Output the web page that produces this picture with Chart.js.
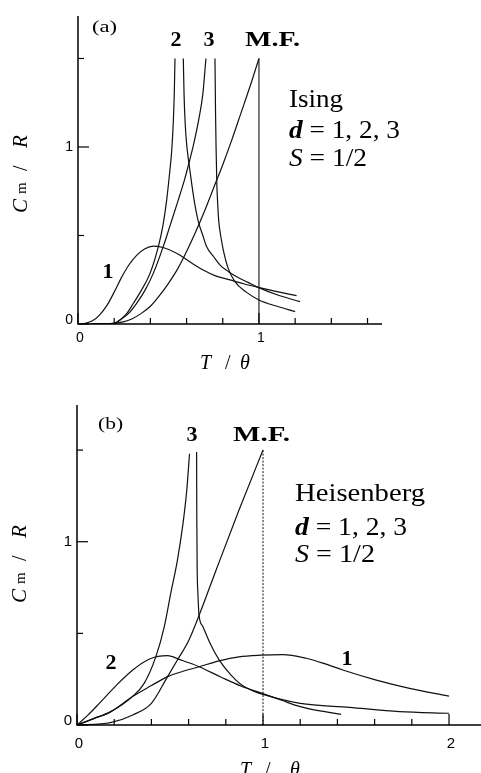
<!DOCTYPE html>
<html>
<head>
<meta charset="utf-8">
<script src="https://cdn.jsdelivr.net/npm/chart.js@4.4.1/dist/chart.umd.min.js"></script>
<style>
  html, body { margin: 0; padding: 0; background: #fff; }
  #wrap { position: relative; width: 481px; height: 773px; overflow: hidden; }
  canvas { position: absolute; left: 0; }
  #ising { top: 0; }
  #heis { top: 390px; }
</style>
</head>
<body>
<div id="wrap">
  <canvas id="ising" width="481" height="390"></canvas>
  <canvas id="heis" width="481" height="383"></canvas>
</div>
<script>
// ---- (a) Ising: T/theta and Cm/R ----
const ising1T = [0, 0.04, 0.08, 0.12, 0.16, 0.2, 0.24, 0.28, 0.324, 0.37, 0.416, 0.47, 0.545, 0.62, 0.692, 0.76, 0.84, 0.92, 0.996, 1.1, 1.208];
const ising1C = [0, 0.004, 0.018, 0.052, 0.105, 0.18, 0.262, 0.332, 0.388, 0.425, 0.44, 0.432, 0.40, 0.35, 0.305, 0.272, 0.249, 0.226, 0.207, 0.183, 0.16];

const ising2LowT = [0.07, 0.2, 0.232, 0.27, 0.306, 0.35, 0.398, 0.444, 0.47, 0.49, 0.505, 0.518, 0.527, 0.532, 0.536];
const ising2LowC = [0, 0.004, 0.023, 0.06, 0.117, 0.19, 0.286, 0.437, 0.56, 0.70, 0.84, 0.98, 1.15, 1.3, 1.5];
const ising2HighT = [0.582, 0.586, 0.593, 0.602, 0.613, 0.63, 0.645, 0.665, 0.69, 0.711, 0.75, 0.785, 0.83, 0.877, 0.94, 0.996, 1.1, 1.227];
const ising2HighC = [1.5, 1.3, 1.12, 1.0, 0.908, 0.78, 0.68, 0.578, 0.5, 0.437, 0.38, 0.333, 0.297, 0.267, 0.235, 0.207, 0.165, 0.126];

const ising3LowT = [0.07, 0.2, 0.232, 0.28, 0.324, 0.37, 0.416, 0.471, 0.51, 0.554, 0.59, 0.613, 0.64, 0.67, 0.69, 0.707];
const ising3LowC = [0, 0.004, 0.023, 0.06, 0.117, 0.19, 0.286, 0.437, 0.56, 0.70, 0.82, 0.908, 1.02, 1.17, 1.3, 1.5];
const ising3HighT = [0.757, 0.76, 0.763, 0.767, 0.772, 0.778, 0.79, 0.803, 0.83, 0.867, 0.93, 1.0, 1.1, 1.2];
const ising3HighC = [1.5, 1.2, 1.0, 0.8, 0.68, 0.58, 0.49, 0.418, 0.314, 0.239, 0.18, 0.136, 0.1, 0.07];

const isingMfT = [0.07, 0.2, 0.25, 0.3, 0.35, 0.4, 0.45, 0.5, 0.55, 0.6, 0.65, 0.7, 0.75, 0.8, 0.85, 0.9, 0.95, 1.0];
const isingMfC = [0, 0.004, 0.012, 0.03, 0.06, 0.1, 0.16, 0.23, 0.31, 0.41, 0.52, 0.64, 0.77, 0.9, 1.04, 1.19, 1.34, 1.5];
const isingMfDropT = [1.0, 1.0];
const isingMfDropC = [1.5, 0];

// ---- (b) Heisenberg ----
const heis1T = [0, 0.09, 0.182, 0.298, 0.4, 0.487, 0.57, 0.657, 0.764, 0.87, 0.988, 1.106, 1.232, 1.33, 1.429, 1.609, 1.788, 2.0];
const heis1C = [0, 0.035, 0.073, 0.155, 0.215, 0.264, 0.293, 0.318, 0.35, 0.372, 0.381, 0.384, 0.364, 0.335, 0.30, 0.245, 0.2, 0.158];

const heis2T = [0, 0.06, 0.12, 0.21, 0.3, 0.39, 0.487, 0.558, 0.657, 0.773, 0.88, 0.988, 1.1, 1.2, 1.3, 1.42];
const heis2C = [0, 0.055, 0.118, 0.215, 0.30, 0.36, 0.378, 0.355, 0.318, 0.262, 0.213, 0.175, 0.135, 0.10, 0.078, 0.058];

const heis3LowT = [0, 0.09, 0.182, 0.298, 0.361, 0.424, 0.469, 0.504, 0.54, 0.57, 0.59, 0.605];
const heis3LowC = [0, 0.035, 0.073, 0.155, 0.227, 0.373, 0.536, 0.718, 0.9, 1.1, 1.28, 1.48];
const heis3HighT = [0.643, 0.644, 0.646, 0.65, 0.656, 0.675, 0.72, 0.764, 0.827, 0.88, 0.95, 1.0, 1.2, 1.465, 1.734, 2.0];
const heis3HighC = [1.49, 1.15, 0.86, 0.72, 0.60, 0.54, 0.436, 0.355, 0.273, 0.222, 0.185, 0.167, 0.118, 0.096, 0.073, 0.064];

const heisMfT = [0, 0.18, 0.3, 0.4, 0.487, 0.54, 0.6, 0.657, 0.748, 0.87, 1.0];
const heisMfC = [0, 0.013, 0.055, 0.118, 0.264, 0.355, 0.46, 0.60, 0.846, 1.17, 1.5];
const heisMfDropT = [1.0, 1.0];
const heisMfDropC = [1.5, 0];

// ---- ticks ----
const xTicksA = [0, 0.2, 0.4, 0.6, 0.8, 1.0, 1.2, 1.4, 1.6];
const xTicksB = [0, 0.2, 0.4, 0.6, 0.8, 1.0, 1.2, 1.4, 1.6, 1.8, 2.0];
const yTicks = [0, 0.5, 1.0, 1.5];
const xLabelsA = [0, 1];
const xLabelsB = [0, 1, 2];
const yLabels = [0, 1];

const SERIF = '"Liberation Serif", "Times New Roman", serif';
const SANS = '"Liberation Sans", Arial, sans-serif';

function pts(xs, ys) {
  return xs.map((x, i) => ({ x: x, y: ys[i] }));
}

function curve(xs, ys, extra) {
  return Object.assign({
    data: pts(xs, ys),
    showLine: true,
    borderColor: '#111',
    borderWidth: 1.2,
    pointRadius: 0,
    fill: false,
    cubicInterpolationMode: 'monotone'
  }, extra || {});
}

// parts: [text, font, dy]
function drawText(ctx, parts, x, y, align, width) {
  let total = 0;
  parts.forEach(p => { ctx.font = p[1]; total += ctx.measureText(p[0]).width; });
  const sx = width ? width / total : 1;
  ctx.save();
  ctx.translate(x, y);
  ctx.scale(sx, 1);
  let cx = align === 'center' ? -total / 2 : 0;
  ctx.textBaseline = 'alphabetic';
  ctx.textAlign = 'left';
  parts.forEach(p => {
    ctx.font = p[1];
    ctx.fillText(p[0], cx, p[2] || 0);
    cx += ctx.measureText(p[0]).width;
  });
  ctx.restore();
}

function axesPlugin(cfg) {
  return {
    id: 'axes_' + cfg.id,
    afterDraw(chart) {
      const ctx = chart.ctx;
      const xs = chart.scales.x, ys = chart.scales.y, a = chart.chartArea;
      ctx.save();
      ctx.strokeStyle = '#000';
      ctx.fillStyle = '#000';
      ctx.lineWidth = 1.5;
      ctx.beginPath();
      ctx.moveTo(a.left, a.top);
      ctx.lineTo(a.left, a.bottom);
      ctx.lineTo(a.right, a.bottom);
      ctx.stroke();

      ctx.lineWidth = 1.2;
      cfg.xTicks.forEach(v => {
        const px = xs.getPixelForValue(v);
        const len = Number.isInteger(v) ? 11 : 6;
        ctx.beginPath();
        ctx.moveTo(px, a.bottom);
        ctx.lineTo(px, a.bottom - len);
        ctx.stroke();
      });
      yTicks.forEach(v => {
        const py = ys.getPixelForValue(v);
        const len = Number.isInteger(v) ? 11 : 6;
        ctx.beginPath();
        ctx.moveTo(a.left, py);
        ctx.lineTo(a.left + len, py);
        ctx.stroke();
      });

      // tick labels
      ctx.font = cfg.tickFont + 'px ' + SANS;
      ctx.textAlign = 'center';
      ctx.textBaseline = 'top';
      cfg.xLabels.forEach(v => {
        ctx.fillText(String(v), xs.getPixelForValue(v) + 2, a.bottom + cfg.xLabelGap);
      });
      ctx.textAlign = 'right';
      ctx.textBaseline = 'middle';
      yLabels.forEach(v => {
        ctx.fillText(String(v), a.left - 5, ys.getPixelForValue(v) - (v === 0 ? 4 : 0));
      });

      // y title  C_m / R
      ctx.save();
      ctx.translate(a.left - 51, cfg.yTitleY);
      ctx.rotate(-Math.PI / 2);
      ctx.textBaseline = 'alphabetic';
      ctx.textAlign = 'left';
      ctx.font = 'italic 21px ' + SERIF;
      ctx.fillText('C', -40, 0);
      ctx.font = '15px ' + SERIF;
      ctx.fillText('m', -21, -1);
      ctx.font = '20px ' + SERIF;
      ctx.fillText('/', 2, 0);
      ctx.font = 'italic 21px ' + SERIF;
      ctx.fillText('R', 25, 0);
      ctx.restore();

      // x title  T / theta
      ctx.textAlign = 'left';
      ctx.textBaseline = 'alphabetic';
      ctx.font = 'italic 20px ' + SERIF;
      ctx.fillText('T', a.left + cfg.xTitle[0], a.bottom + cfg.xTitleDy);
      ctx.font = '20px ' + SERIF;
      ctx.fillText('/', a.left + cfg.xTitle[1], a.bottom + cfg.xTitleDy);
      ctx.font = 'italic 20px ' + SERIF;
      ctx.fillText('\u03B8', a.left + cfg.xTitle[2], a.bottom + cfg.xTitleDy);

      // annotations placed in data coordinates
      cfg.notes.forEach(n => {
        drawText(ctx, n.parts, xs.getPixelForValue(n.x), ys.getPixelForValue(n.y), n.align, n.width);
      });
      ctx.restore();
    }
  };
}

function makeChart(cfg, datasets) {
  return new Chart(document.getElementById(cfg.id), {
    type: 'scatter',
    data: { datasets: datasets },
    options: {
      responsive: false,
      animation: false,
      events: [],
      layout: { padding: cfg.padding },
      plugins: { legend: { display: false }, tooltip: { enabled: false } },
      scales: {
        x: { type: 'linear', display: false, min: 0, max: cfg.xMax },
        y: { type: 'linear', display: false, min: 0, max: cfg.yMax }
      }
    },
    plugins: [axesPlugin(cfg)]
  });
}

const B21 = 'bold 22px ' + SERIF;
const R25 = '25px ' + SERIF;
const I25 = 'italic bold 25px ' + SERIF;
const IS25 = 'italic 25px ' + SERIF;

let drawn = false;
function drawAll() {
  if (drawn) return;
  drawn = true;

  makeChart({
    id: 'ising',
    padding: { left: 78, right: 99, top: 16, bottom: 66 },
    xMax: 1.68, yMax: 1.74,
    xTicks: xTicksA, xLabels: xLabelsA,
    tickFont: 14, xLabelGap: 7,
    yTitleY: 173, xTitle: [122, 147, 162], xTitleDy: 45,
    notes: [
      { parts: [['(a)', '17px ' + SERIF]], x: 0.077, y: 1.65, width: 25 },
      { parts: [['2', B21]], x: 0.541, y: 1.571, align: 'center' },
      { parts: [['3', B21]], x: 0.724, y: 1.571, align: 'center' },
      { parts: [['M.F.', B21]], x: 0.923, y: 1.571, width: 55 },
      { parts: [['1', B21]], x: 0.166, y: 0.26, align: 'center' },
      { parts: [['Ising', R25]], x: 1.166, y: 1.226, width: 54 },
      { parts: [['d', I25], [' = 1, 2, 3', R25]], x: 1.166, y: 1.051, width: 111 },
      { parts: [['S', IS25], [' = 1/2', R25]], x: 1.166, y: 0.893, width: 78 }
    ]
  }, [
    curve(ising1T, ising1C),
    curve(ising2LowT, ising2LowC),
    curve(ising2HighT, ising2HighC),
    curve(ising3LowT, ising3LowC),
    curve(ising3HighT, ising3HighC),
    curve(isingMfT, isingMfC),
    curve(isingMfDropT, isingMfDropC, { cubicInterpolationMode: 'default', borderWidth: 1.1 })
  ]);

  makeChart({
    id: 'heis',
    padding: { left: 77, right: 0, top: 15, bottom: 48 },
    xMax: 2.172, yMax: 1.746,
    xTicks: xTicksB, xLabels: xLabelsB,
    tickFont: 15, xLabelGap: 11,
    yTitleY: 173, xTitle: [163, 188, 213], xTitleDy: 51,
    notes: [
      { parts: [['(b)', '17px ' + SERIF]], x: 0.113, y: 1.615, width: 25 },
      { parts: [['3', B21]], x: 0.618, y: 1.549, align: 'center' },
      { parts: [['M.F.', B21]], x: 0.839, y: 1.549, width: 57 },
      { parts: [['2', B21]], x: 0.183, y: 0.306, align: 'center' },
      { parts: [['1', B21]], x: 1.452, y: 0.327, align: 'center' },
      { parts: [['Heisenberg', R25]], x: 1.172, y: 1.222, width: 130 },
      { parts: [['d', I25], [' = 1, 2, 3', R25]], x: 1.172, y: 1.037, width: 112 },
      { parts: [['S', IS25], [' = 1/2', R25]], x: 1.172, y: 0.889, width: 80 }
    ]
  }, [
    curve(heis1T, heis1C),
    curve(heis2T, heis2C),
    curve(heis3LowT, heis3LowC),
    curve(heis3HighT, heis3HighC),
    curve(heisMfT, heisMfC),
    curve(heisMfDropT, heisMfDropC, { cubicInterpolationMode: 'default', borderWidth: 1, borderDash: [2, 1.5] })
  ]);
}

// make sure the serif/sans faces are ready before the canvas text is drawn
const faces = ['17px "Liberation Serif"', 'bold 22px "Liberation Serif"', 'italic 25px "Liberation Serif"',
  'italic bold 25px "Liberation Serif"', '14px "Liberation Sans"'];
Promise.all(faces.map(f => document.fonts.load(f))).then(drawAll, drawAll);
setTimeout(drawAll, 1500);
</script>
</body>
</html>
